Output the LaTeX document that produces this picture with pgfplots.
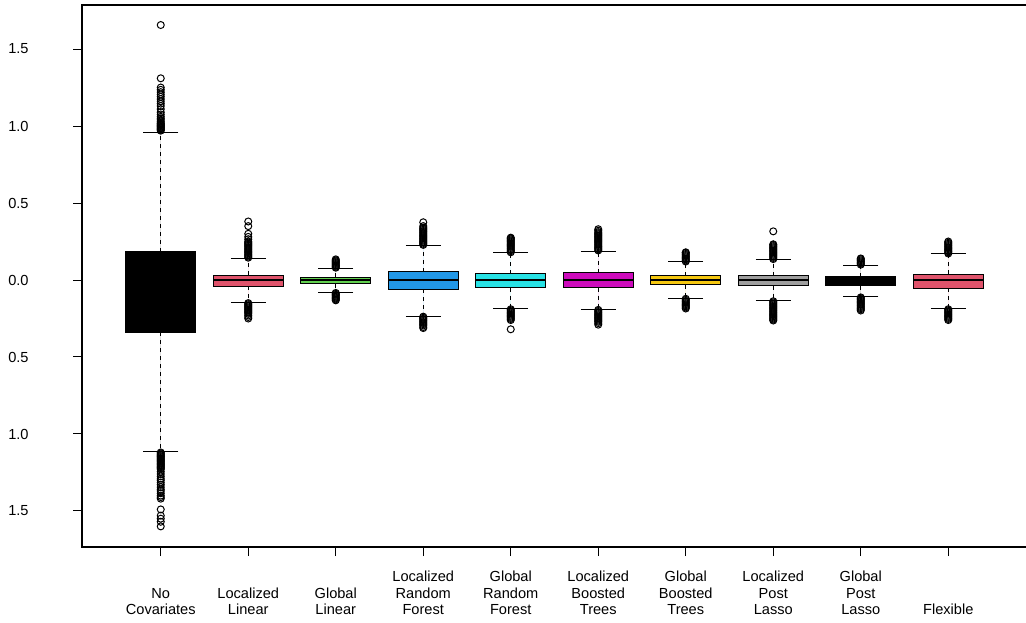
\documentclass[border=0pt]{standalone}
\usepackage{pgfplots}
\pgfplotsset{compat=1.18}
\usepgfplotslibrary{statistics}
\usepackage{fontspec}
\setmainfont{Liberation Sans}
\definecolor{cred}{HTML}{DF536B}
\definecolor{cgreen}{HTML}{61D04F}
\definecolor{cblue}{HTML}{2297E6}
\definecolor{ccyan}{HTML}{28E2E5}
\definecolor{cmag}{HTML}{CD0BBC}
\definecolor{cyel}{HTML}{F5C710}
\definecolor{cgray}{HTML}{9E9E9E}
\pgfplotsset{
  mybox/.style={draw=black, fill=#1, line width=0.5pt, mark=o, mark size=1.75pt,
    mark options={solid, draw=black, fill=none, line width=0.5pt}},
}
\begin{document}
\begin{tikzpicture}
\begin{axis}[
  at={(41pt,37.5pt)}, anchor=south west,
  scale only axis, width=472.5pt, height=271pt,
  xmin=0.1, xmax=10.9, ymin=-1.734, ymax=1.786,
  xtick={1,2,3,4,5,6,7,8,9,10},
  xticklabels={No\\Covariates, Localized\\Linear, Global\\Linear, Localized\\Random\\Forest, Global\\Random\\Forest, Localized\\Boosted\\Trees, Global\\Boosted\\Trees, Localized\\Post\\Lasso, Global\\Post\\Lasso, Flexible},
  ytick={-1.5,-1,-0.5,0,0.5,1,1.5},
  yticklabels={1.5,1.0,0.5,0.0,0.5,1.0,1.5},
  tick align=outside, major tick length=4.5pt,
  tick style={black, line width=0.5pt},
  xtick pos=bottom, ytick pos=left,
  axis line style={line width=0.6pt},
  every tick label/.append style={font=\fontsize{7.3}{8.2}\selectfont},
  xticklabel style={anchor=south, align=center, inner sep=0pt, yshift=-29.5pt},
  yticklabel style={anchor=east, inner sep=0pt, xshift=-22pt},
  boxplot/draw direction=y,
  boxplot/box extend=0.8,
  boxplot/whisker extend=0.4,
  boxplot/every median/.style={line width=1.3pt, draw=black},
  boxplot/draw/lower whisker/.code={%
    \draw[line width=0.5pt, dash pattern=on 2pt off 2pt]
      (boxplot cs:\pgfplotsboxplotvalue{lower quartile}) -- (boxplot cs:\pgfplotsboxplotvalue{lower whisker});
    \draw[line width=0.5pt, solid]
      (boxplot whisker cs:\pgfplotsboxplotvalue{lower whisker},0) -- (boxplot whisker cs:\pgfplotsboxplotvalue{lower whisker},1);
  },
  boxplot/draw/upper whisker/.code={%
    \draw[line width=0.5pt, dash pattern=on 2pt off 2pt]
      (boxplot cs:\pgfplotsboxplotvalue{upper quartile}) -- (boxplot cs:\pgfplotsboxplotvalue{upper whisker});
    \draw[line width=0.5pt, solid]
      (boxplot whisker cs:\pgfplotsboxplotvalue{upper whisker},0) -- (boxplot whisker cs:\pgfplotsboxplotvalue{upper whisker},1);
  },
]
% 1 No Covariates
\addplot[mybox=black, boxplot prepared={draw position=1, lower whisker=-1.115, lower quartile=-0.34, median=-0.05, upper quartile=0.184, upper whisker=0.961}]
table[row sep=\\, y index=0] {data\\
0.97\\0.975\\0.98\\0.985\\0.99\\0.995\\1.0\\1.005\\1.01\\1.015\\1.02\\1.03\\1.04\\1.05\\1.06\\1.075\\1.09\\1.11\\1.13\\1.145\\1.16\\1.175\\1.19\\1.205\\1.22\\1.235\\1.25\\1.31\\1.656\\
-1.12\\-1.126\\-1.132\\-1.138\\-1.144\\-1.15\\-1.156\\-1.162\\-1.168\\-1.174\\-1.18\\-1.186\\-1.192\\-1.198\\-1.204\\-1.21\\-1.216\\-1.222\\-1.23\\-1.245\\-1.26\\-1.275\\-1.29\\-1.3\\-1.315\\-1.33\\-1.345\\-1.36\\-1.37\\-1.385\\-1.4\\-1.41\\-1.42\\-1.49\\-1.53\\-1.55\\-1.57\\-1.60\\
};
% 2 Localized Linear
\addplot[mybox=cred, boxplot prepared={draw position=2, lower whisker=-0.147, lower quartile=-0.039, median=0, upper quartile=0.032, upper whisker=0.141}]
table[row sep=\\, y index=0] {data\\
0.145\\0.152\\0.159\\0.166\\0.173\\0.18\\0.187\\0.194\\0.201\\0.208\\0.215\\0.222\\0.229\\0.236\\0.243\\0.25\\0.265\\0.28\\0.3\\0.35\\0.38\\
-0.15\\-0.157\\-0.164\\-0.171\\-0.178\\-0.185\\-0.192\\-0.199\\-0.206\\-0.213\\-0.22\\-0.23\\-0.24\\-0.25\\
};
% 3 Global Linear
\addplot[mybox=cgreen, boxplot prepared={draw position=3, lower whisker=-0.080, lower quartile=-0.023, median=0, upper quartile=0.017, upper whisker=0.076}]
table[row sep=\\, y index=0] {data\\
0.08\\0.086\\0.092\\0.098\\0.104\\0.11\\0.116\\0.122\\0.128\\0.134\\
-0.084\\-0.09\\-0.096\\-0.102\\-0.108\\-0.114\\-0.12\\-0.126\\-0.132\\
};
% 4 Localized Random Forest
\addplot[mybox=cblue, boxplot prepared={draw position=4, lower whisker=-0.234, lower quartile=-0.060, median=0, upper quartile=0.054, upper whisker=0.223}]
table[row sep=\\, y index=0] {data\\
0.228\\0.235\\0.242\\0.249\\0.256\\0.263\\0.27\\0.277\\0.284\\0.291\\0.298\\0.305\\0.312\\0.319\\0.326\\0.333\\0.34\\0.35\\0.375\\
-0.238\\-0.245\\-0.252\\-0.259\\-0.266\\-0.273\\-0.28\\-0.287\\-0.295\\-0.305\\-0.312\\
};
% 5 Global Random Forest
\addplot[mybox=ccyan, boxplot prepared={draw position=5, lower whisker=-0.186, lower quartile=-0.050, median=0, upper quartile=0.041, upper whisker=0.177}]
table[row sep=\\, y index=0] {data\\
0.18\\0.187\\0.194\\0.201\\0.208\\0.215\\0.222\\0.229\\0.236\\0.243\\0.25\\0.257\\0.264\\0.27\\0.275\\
-0.19\\-0.197\\-0.204\\-0.211\\-0.218\\-0.225\\-0.232\\-0.239\\-0.246\\-0.253\\-0.26\\-0.32\\
};
% 6 Localized Boosted Trees
\addplot[mybox=cmag, boxplot prepared={draw position=6, lower whisker=-0.190, lower quartile=-0.050, median=0, upper quartile=0.047, upper whisker=0.188}]
table[row sep=\\, y index=0] {data\\
0.192\\0.199\\0.206\\0.213\\0.22\\0.227\\0.234\\0.241\\0.248\\0.255\\0.262\\0.269\\0.276\\0.283\\0.29\\0.297\\0.304\\0.311\\0.32\\0.33\\
-0.194\\-0.201\\-0.208\\-0.215\\-0.222\\-0.229\\-0.236\\-0.243\\-0.25\\-0.257\\-0.264\\-0.271\\-0.28\\-0.29\\
};
% 7 Global Boosted Trees
\addplot[mybox=cyel, boxplot prepared={draw position=7, lower whisker=-0.119, lower quartile=-0.032, median=0, upper quartile=0.028, upper whisker=0.117}]
table[row sep=\\, y index=0] {data\\
0.12\\0.127\\0.134\\0.141\\0.148\\0.155\\0.162\\0.169\\0.176\\0.18\\
-0.122\\-0.129\\-0.136\\-0.143\\-0.15\\-0.157\\-0.164\\-0.171\\-0.178\\-0.185\\
};
% 8 Localized Post Lasso
\addplot[mybox=cgray, boxplot prepared={draw position=8, lower whisker=-0.134, lower quartile=-0.037, median=0, upper quartile=0.028, upper whisker=0.132}]
table[row sep=\\, y index=0] {data\\
0.136\\0.143\\0.15\\0.157\\0.164\\0.171\\0.178\\0.185\\0.192\\0.199\\0.206\\0.213\\0.22\\0.227\\0.232\\0.316\\
-0.138\\-0.145\\-0.152\\-0.159\\-0.166\\-0.173\\-0.18\\-0.187\\-0.194\\-0.201\\-0.208\\-0.215\\-0.222\\-0.229\\-0.236\\-0.243\\-0.25\\-0.257\\-0.263\\
};
% 9 Global Post Lasso
\addplot[mybox=black, boxplot prepared={draw position=9, lower whisker=-0.110, lower quartile=-0.037, median=0, upper quartile=0.022, upper whisker=0.097}]
table[row sep=\\, y index=0] {data\\
0.1\\0.107\\0.114\\0.121\\0.128\\0.135\\0.14\\
-0.113\\-0.12\\-0.127\\-0.134\\-0.141\\-0.148\\-0.155\\-0.162\\-0.169\\-0.176\\-0.183\\-0.19\\-0.198\\
};
% 10 Flexible
\addplot[mybox=cred, boxplot prepared={draw position=10, lower whisker=-0.186, lower quartile=-0.054, median=0, upper quartile=0.037, upper whisker=0.169}]
table[row sep=\\, y index=0] {data\\
0.172\\0.179\\0.186\\0.193\\0.2\\0.207\\0.214\\0.221\\0.228\\0.235\\0.242\\0.25\\
-0.19\\-0.197\\-0.204\\-0.211\\-0.218\\-0.225\\-0.232\\-0.239\\-0.246\\-0.253\\-0.26\\
};
\end{axis}
\pgfresetboundingbox
\path (0,0) rectangle (513pt,311pt);
\end{tikzpicture}
\end{document}
